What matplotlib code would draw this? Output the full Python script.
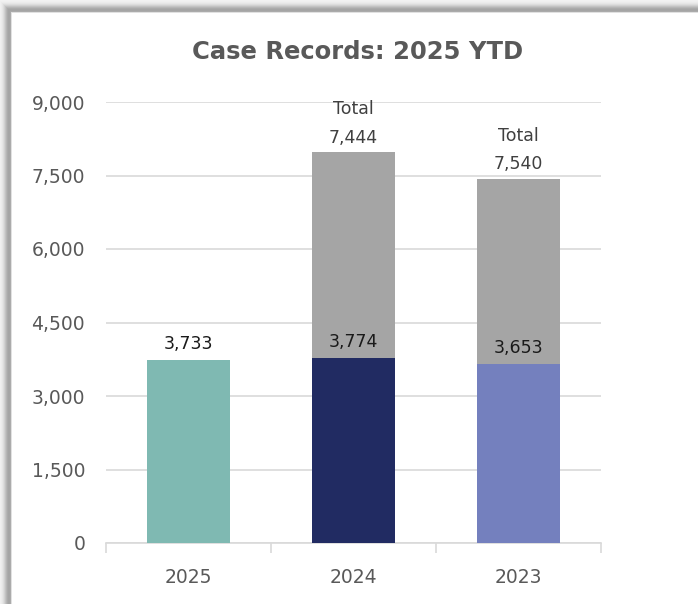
import numpy as np
import matplotlib
matplotlib.use("Agg")
import matplotlib.pyplot as plt

# ---- data ----
categories = ["2025", "2024", "2023"]
current_values = [3733, 3774, 3653]
extra_values = [0, 4200, 3780]
value_labels = ["3,733", "3,774", "3,653"]
total_labels = [None, "Total\n7,444", "Total\n7,540"]
bar_colors = ["#7fb9b2", "#212b62", "#7480be"]
gray_color = "#a5a5a5"
y_ticks = [0, 1500, 3000, 4500, 6000, 7500, 9000]

W, H = 698, 604
fig = plt.figure(figsize=(W / 100, H / 100), dpi=100)

# ---- frame with shadow (background) ----
bg = fig.add_axes([0, 0, 1, 1], zorder=-10)
yy, xx = np.mgrid[0:H, 0:W]
x0, y0 = 12, 13
d = np.maximum(np.maximum(x0 - xx, y0 - yy), 0).astype(float)
val = np.where(d > 0, 245 - 80 * np.exp(-((d - 3.5) / 5.0) ** 2), 255.0)
val = np.where((d > 0) & (d <= 1.0), 225, val)
img = np.clip(val, 0, 255).astype(np.uint8)
bg.imshow(np.dstack([img] * 3), extent=[0, W, H, 0], aspect="auto", interpolation="bilinear")
bg.set_xlim(0, W)
bg.set_ylim(H, 0)
bg.axis("off")

# ---- chart ----
ax = fig.add_axes([106 / W, 61 / H, 495 / W, 441 / H])
x = np.arange(len(categories))
ax.bar(x, current_values, width=0.5, color=bar_colors, zorder=3)
ax.bar(x, extra_values, width=0.5, bottom=current_values, color=gray_color, zorder=3)

ax.set_xlim(-0.5, len(categories) - 0.5)
ax.set_ylim(0, 9000)
ax.set_yticks(y_ticks)
ax.set_yticklabels([f"{v:,}" for v in y_ticks])
ax.yaxis.grid(True, color="#d9d9d9", linewidth=1.2, zorder=0)
ax.set_axisbelow(True)

ax.set_xticks([-0.5, 0.5, 1.5, 2.5])
ax.set_xticklabels([])
ax.set_xticks(x, minor=True)
ax.set_xticklabels(categories, minor=True)
ax.tick_params(axis="x", which="major", length=7, width=1.2, color="#d9d9d9", direction="out")
ax.tick_params(axis="x", which="minor", length=0, pad=18, labelsize=13.5, labelcolor="#595959")
ax.tick_params(axis="y", length=0, pad=15, labelsize=13.5, labelcolor="#595959")

for s in ["top", "right", "left"]:
    ax.spines[s].set_visible(False)
ax.spines["bottom"].set_color("#d9d9d9")
ax.spines["bottom"].set_linewidth(1.2)

label_font = "DejaVu Sans"
for i in range(len(categories)):
    ax.annotate(value_labels[i], (x[i], current_values[i]), xytext=(0, 5),
                textcoords="offset points", ha="center", va="bottom",
                fontsize=12.5, color="#1a1a1a", family=label_font, zorder=5)
    if total_labels[i]:
        top = current_values[i] + extra_values[i]
        ax.annotate(total_labels[i], (x[i], top), xytext=(0, 4),
                    textcoords="offset points", ha="center", va="bottom",
                    fontsize=12.5, color="#404040", family=label_font,
                    linespacing=1.75, zorder=5)

fig.text(358 / W, 1 - 52 / H, "Case Records: 2025 YTD", ha="center", va="center",
         fontsize=17.5, fontweight="bold", color="#595959")

fig.savefig("out.png", dpi=100)
